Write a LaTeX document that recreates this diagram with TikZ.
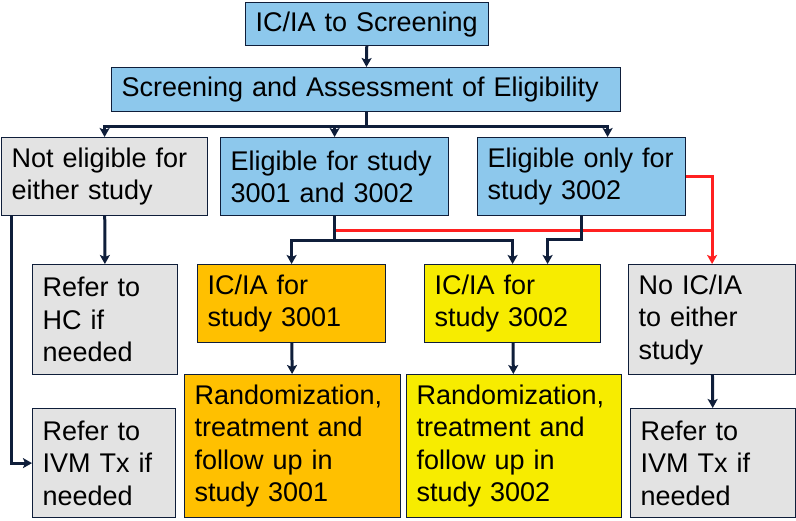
\documentclass[tikz,border=0pt]{standalone}
\usepackage{fontspec}
\setmainfont{Liberation Sans}
\usetikzlibrary{arrows.meta,calc}
\definecolor{fcblue}{HTML}{8DC8EC}
\definecolor{fcgray}{HTML}{E3E3E3}
\definecolor{fcorange}{HTML}{FFC000}
\definecolor{fcyellow}{HTML}{F7EC00}
\definecolor{fcnavy}{HTML}{0F1E3A}
\definecolor{fcred}{HTML}{FF2020}

\begin{document}
\begin{tikzpicture}[x=1pt, y=-1pt,
    fcbox/.style={draw=fcnavy, line width=1.2pt, rectangle, anchor=north west,
      align=left, inner xsep=10pt, inner ysep=0pt, text=black,
      font=\fontsize{27}{32.5}\selectfont},
    flow/.style={draw=fcnavy, line width=3pt, -{Stealth[length=9pt,width=10pt,inset=2pt]}},
    redflow/.style={draw=fcred, line width=3pt}]
  \useasboundingbox (0,0) rectangle (796,520);
  % top of the chart (blue)
  \node[fcbox, fill=fcblue, text width=223pt, minimum height=43pt] (toscr) at (245,2) {IC/IA to Screening};
  \node[fcbox, fill=fcblue, text width=489pt, minimum height=44pt] (assess) at (111,67) {Screening and Assessment of Eligibility};
  % row of eligibility outcomes
  \node[fcbox, fill=fcgray, text width=186pt, minimum height=78pt] (noteli) at (1,137) {Not eligible for\\either study};
  \node[fcbox, fill=fcblue, text width=208pt, minimum height=78pt] (eliboth) at (220,137) {Eligible for study\\3001 and 3002};
  \node[fcbox, fill=fcblue, text width=188pt, minimum height=78pt] (elionly) at (477,137) {Eligible only for\\study 3002};
  % consent row
  \node[fcbox, fill=fcgray, text width=125pt, minimum height=110pt] (referhc) at (32,264) {Refer to\\HC if\\needed};
  \node[fcbox, fill=fcorange, text width=168pt, minimum height=78pt] (icone) at (197,264) {IC/IA for\\study 3001};
  \node[fcbox, fill=fcyellow, text width=156pt, minimum height=78pt] (ictwo) at (424,264) {IC/IA for\\study 3002};
  \node[fcbox, fill=fcgray, text width=147pt, minimum height=110pt] (noic) at (628,264) {No IC/IA\\to either\\study};
  % study row
  \node[fcbox, fill=fcgray, text width=123pt, minimum height=109pt] (ivmleft) at (32,408) {Refer to\\IVM Tx if\\needed};
  \node[fcbox, fill=fcorange, text width=196pt, minimum height=143pt] (randone) at (184,374) {Randomization,\\treatment and\\follow up in\\study 3001};
  \node[fcbox, fill=fcyellow, text width=195pt, minimum height=143pt] (randtwo) at (406,374) {Randomization,\\treatment and\\follow up in\\study 3002};
  \node[fcbox, fill=fcgray, text width=145pt, minimum height=109pt] (ivmright) at (630,408) {Refer to\\IVM Tx if\\needed};
  % connectors
  \draw[flow] (toscr) -- (assess);
  \coordinate (split) at ($(assess.south)+(0,14)$);
  \draw[flow] (assess.south) -- (split) -| (noteli.north);
  \draw[flow] (split) -| (eliboth.north);
  \draw[flow] (split) -| ([xshift=26pt]elionly.north);
  % red path to no consent
  \coordinate (redjoin) at ($(eliboth.south)+(0,14)$);
  \draw[redflow] (redjoin) -- (redjoin -| noic.north);
  \draw[redflow, -{Stealth[length=9pt,width=10pt,inset=2pt]}] (elionly.east) -| (noic.north);
  % black paths to consent boxes
  \coordinate (bothsplit) at ($(eliboth.south)+(0,24)$);
  \draw[flow] (eliboth.south) -- (bothsplit) -| (icone.north);
  \draw[flow] (bothsplit) -| (ictwo.north);
  \draw[flow] (elionly.south) -- ++(0,23) -| ([xshift=35pt]ictwo.north);
  \draw[flow] (noteli) -- (referhc);
  \draw[flow] ([xshift=10pt]noteli.south west) |- (ivmleft.west);
  \draw[flow] (icone) -- (randone);
  \draw[flow] (ictwo) -- (randtwo);
  \draw[flow] (noic) -- (ivmright);
\end{tikzpicture}
\end{document}
